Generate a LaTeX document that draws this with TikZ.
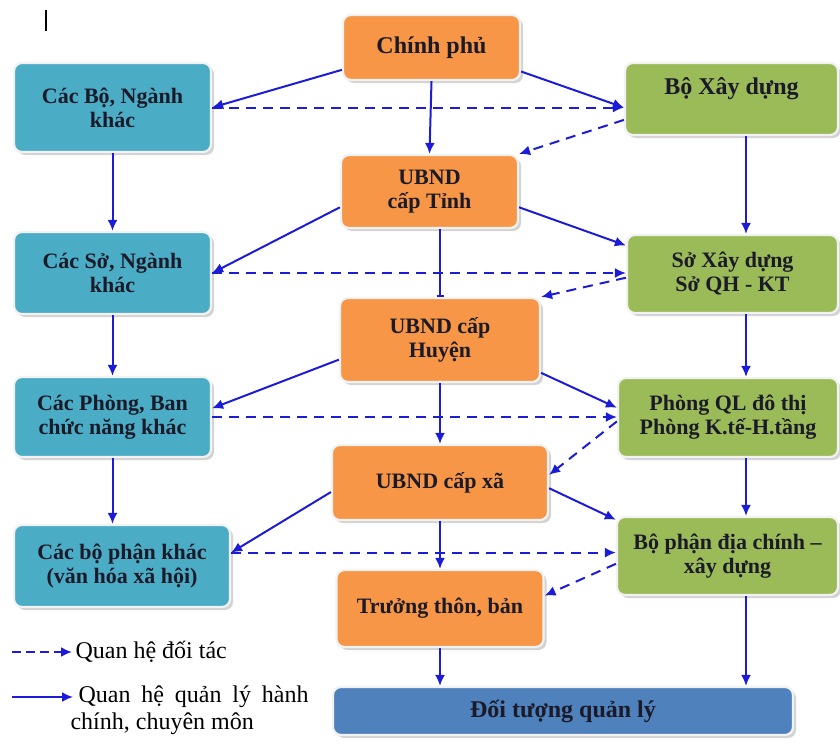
\documentclass[tikz,border=0pt]{standalone}
\usepackage{fontspec}
\setmainfont{Liberation Serif}
\usepackage{tikz}
\usetikzlibrary{arrows.meta,shadows}
\definecolor{boxaqua}{HTML}{4BACC6}
\definecolor{boxorange}{HTML}{F79646}
\definecolor{boxgreen}{HTML}{9BBB59}
\definecolor{boxnavy}{HTML}{4F81BD}
\definecolor{linkblue}{HTML}{1C1CD8}
\definecolor{inkdark}{HTML}{1A1A28}

\begin{document}
\begin{tikzpicture}[x=1pt, y=-1pt, >=Latex,
  unit/.style={rounded corners=8pt, draw=white!90!gray, line width=2.2pt, inner sep=0pt,
    align=center, text=inkdark, font=\fontsize{22}{24}\selectfont\bfseries,
    drop shadow={shadow xshift=3pt, shadow yshift=-3pt, opacity=0.35}},
  bigunit/.style={unit, font=\fontsize{24}{26}\selectfont\bfseries},
  rel/.style={linkblue, line width=2pt, -{Latex[length=11pt, width=10pt]}},
  partner/.style={rel, dash pattern=on 10pt off 7pt},
  legend/.style={font=\fontsize{24}{27}\selectfont, text=black}]
  \useasboundingbox (0,0) rectangle (840,744);
  % stray cursor mark
  \draw[line width=1.3pt] (46,10) -- (46,31);
  % left column
  \node[unit, fill=boxaqua, minimum width=197, minimum height=89] (bo) at (112.5,107.5) {Các Bộ, Ngành\\khác};
  \node[unit, fill=boxaqua, minimum width=197, minimum height=82] (so) at (112.5,273) {Các Sở, Ngành\\khác};
  \node[unit, fill=boxaqua, minimum width=197, minimum height=80] (phong) at (112.5,417) {Các Phòng, Ban\\chức năng khác};
  \node[unit, fill=boxaqua, minimum width=216, minimum height=82] (bophan) at (122,566) {Các bộ phận khác\\(văn hóa xã hội)};
  % middle column
  \node[bigunit, fill=boxorange, minimum width=177, minimum height=65] (cp) at (431.5,47.5) {Chính phủ};
  \node[unit, fill=boxorange, minimum width=177, minimum height=73] (tinh) at (429.5,191.5) {UBND\\cấp Tỉnh};
  \node[unit, fill=boxorange, minimum width=200, minimum height=84] (huyen) at (440,340) {UBND cấp\\Huyện};
  \node[unit, fill=boxorange, minimum width=216, minimum height=75] (xa) at (440,482.5) {UBND cấp xã};
  \node[unit, fill=boxorange, minimum width=207, minimum height=77] (thon) at (440,608.5) {Trưởng thôn, bản};
  \node[bigunit, fill=boxnavy, minimum width=460, minimum height=48] (dt) at (563,711) {Đối tượng quản lý};
  % right column
  \node[bigunit, fill=boxgreen, minimum width=213, minimum height=72] (bxd) at (731.5,99) {Bộ Xây dựng\\\mbox{}};
  \node[unit, fill=boxgreen, minimum width=211, minimum height=78] (sxd) at (732.5,274) {Sở Xây dựng\\Sở QH - KT};
  \node[unit, fill=boxgreen, minimum width=220, minimum height=79] (pql) at (728,417.5) {Phòng QL đô thị\\Phòng K.tế-H.tầng};
  \node[unit, fill=boxgreen, minimum width=221, minimum height=78] (dc) at (727.5,556) {Bộ phận địa chính –\\xây dựng};
  \coordinate (mline) at (440,0);
  \coordinate (rline) at (746,0);
  % chinh phu level
  \draw[rel] (cp.194) -- (bo.east);
  \draw[rel] (cp.-15) -- (bo.east -| bxd.west);
  \draw[rel] (cp.south) -- (tinh.north);
  \draw[partner] (bo.east) -- (bo.east -| bxd.west);
  \draw[partner] (bxd.191) -- (tinh.north east);
  % tinh level
  \draw[rel] (tinh.190) -- (so.east);
  \draw[rel] (tinh.-10) -- (sxd.165);
  \draw[rel, -{Bar[width=7pt]}] (tinh.south -| mline) -- (huyen.north);
  \draw[partner] (so.east) -- (so.east -| sxd.west);
  \draw[partner] (sxd.182) -- (huyen.north east);
  % huyen level
  \draw[rel] (huyen.191) -- (phong.5);
  \draw[rel] (huyen.-18) -- (pql.175);
  \draw[rel] (huyen.south) -- (xa.north);
  \draw[partner] (phong.east) -- (phong.east -| pql.west);
  \draw[partner] (pql.182) -- (xa.4);
  % xa level
  \draw[rel] (xa.185) -- (bophan.7);
  \draw[rel] (xa.-3) -- (dc.162);
  \draw[rel] (xa.south) -- (thon.north);
  \draw[partner] (bophan.7) -- (bophan.7 -| dc.west);
  \draw[partner] (dc.184) -- (thon.7);
  \draw[rel] (thon.south) -- (dt.north -| thon.south);
  % left chain
  \draw[rel] (bo.south) -- (so.north);
  \draw[rel] (so.south) -- (phong.north);
  \draw[rel] (phong.south) -- (bophan.north -| phong.south);
  % right chain
  \draw[rel] (bxd.south -| rline) -- (sxd.north -| rline);
  \draw[rel] (sxd.south -| rline) -- (pql.north -| rline);
  \draw[rel] (pql.south -| rline) -- (dc.north -| rline);
  \draw[rel] (dc.south -| rline) -- (dt.north -| rline);
  % legend
  \coordinate (lega) at (12,652);
  \node[legend, anchor=west] (qhdt) at (72,652) {Quan hệ đối tác};
  \draw[partner, dash pattern=on 9pt off 5pt] (lega) -- (qhdt.west);
  \coordinate (legb) at (12,697);
  \coordinate (legtip) at (73,697);
  \node[legend, anchor=north west, text width=238, align=justify] (qhql) at (67,682)
    {\hyphenpenalty=10000\tolerance=9999\hspace*{8pt}Quan hệ quản lý hành chính, chuyên môn};
  \draw[rel] (legb) -- (legtip);
\end{tikzpicture}
\end{document}
